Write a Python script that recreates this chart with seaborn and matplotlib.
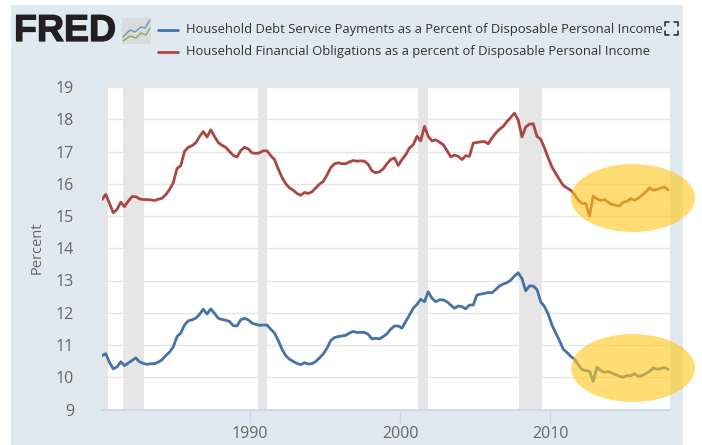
import numpy as np
import pandas as pd
import matplotlib
matplotlib.use('Agg')
import matplotlib.pyplot as plt
import matplotlib.patheffects as pe
import seaborn as sns
from matplotlib.patches import Ellipse, Rectangle
from matplotlib.lines import Line2D
from matplotlib.transforms import IdentityTransform

# values, quarterly from 1980
debt_service = [
    10.67, 10.73, 10.46, 10.26, 10.32, 10.48, 10.36, 10.44, 10.52, 10.60, 10.48, 10.43, 10.40, 10.42, 10.42, 10.47,
    10.54, 10.67, 10.78, 10.94, 11.26, 11.37, 11.62, 11.75, 11.78, 11.83, 11.95, 12.11, 11.96, 12.12, 11.98, 11.83,
    11.79, 11.77, 11.73, 11.60, 11.59, 11.78, 11.83, 11.78, 11.68, 11.64, 11.61, 11.62, 11.62, 11.49, 11.37, 11.14,
    10.87, 10.67, 10.56, 10.49, 10.43, 10.39, 10.45, 10.41, 10.42, 10.49, 10.60, 10.72, 10.90, 11.14, 11.23, 11.26,
    11.28, 11.30, 11.37, 11.42, 11.39, 11.39, 11.39, 11.33, 11.19, 11.21, 11.19, 11.26, 11.35, 11.49,
    11.59, 11.59, 11.52, 11.73, 11.93, 12.14, 12.26, 12.42, 12.34, 12.65, 12.45, 12.34, 12.40, 12.40, 12.34, 12.24,
    12.14, 12.21, 12.19, 12.12, 12.24, 12.24, 12.55, 12.58, 12.60, 12.63, 12.62, 12.72, 12.83, 12.89, 12.93, 13.01,
    13.14, 13.24, 13.06, 12.68, 12.83, 12.83, 12.72, 12.34, 12.19, 11.96, 11.62, 11.37, 11.14, 10.87, 10.77, 10.65,
    10.56, 10.39, 10.24, 10.21, 10.18, 9.87, 10.31, 10.21, 10.15, 10.18, 10.13, 10.08, 10.03, 10.00, 10.05, 10.05,
    10.11, 10.03, 10.05, 10.11, 10.18, 10.29, 10.25, 10.27, 10.30, 10.25,
]
financial_obligations = [
    15.51, 15.67, 15.39, 15.10, 15.20, 15.43, 15.29, 15.46, 15.60, 15.60, 15.53, 15.51, 15.51, 15.50, 15.48, 15.52,
    15.55, 15.66, 15.82, 16.03, 16.47, 16.56, 17.00, 17.13, 17.18, 17.27, 17.46, 17.62, 17.45, 17.67, 17.47, 17.28,
    17.19, 17.13, 17.00, 16.88, 16.83, 17.03, 17.13, 17.08, 16.96, 16.94, 16.96, 17.02, 17.02, 16.87, 16.75, 16.46,
    16.20, 16.00, 15.87, 15.80, 15.70, 15.64, 15.73, 15.70, 15.75, 15.87, 15.99, 16.07, 16.27, 16.50, 16.62, 16.65,
    16.62, 16.62, 16.68, 16.72, 16.70, 16.71, 16.70, 16.60, 16.40, 16.34,
    16.37, 16.46, 16.62, 16.75, 16.80, 16.57, 16.75, 16.90, 17.11, 17.21, 17.47, 17.33, 17.78, 17.47, 17.33, 17.36,
    17.29, 17.21, 17.03, 16.83, 16.89, 16.85, 16.75, 16.87, 16.85, 17.26, 17.28, 17.30, 17.31, 17.24, 17.42, 17.57,
    17.69, 17.78, 17.93, 18.06, 18.19, 17.98, 17.45, 17.76, 17.85, 17.86, 17.47, 17.38, 17.11, 16.80, 16.52, 16.32,
    16.13, 15.95, 15.87, 15.80, 15.67, 15.49, 15.39, 15.39, 15.00, 15.62, 15.53, 15.48, 15.51, 15.43, 15.36, 15.33,
    15.31, 15.43, 15.45, 15.54, 15.49, 15.55, 15.65, 15.74, 15.87, 15.80, 15.82, 15.87, 15.90, 15.81,
]
recessions = [(1980.13, 1980.5), (1981.5, 1982.9), (1990.55, 1991.1), (2001.2, 2001.85), (2007.95, 2009.45)]
y_ticks = [9, 10, 11, 12, 13, 14, 15, 16, 17, 18, 19]
x_ticks = [1990, 2000, 2010]
debt_label = 'Household Debt Service Payments as a Percent of Disposable Personal Income'
fin_label = 'Household Financial Obligations as a percent of Disposable Personal Income'

W, H = 702, 445
BLUE = '#4572a7'
RED = '#aa4643'

sns.set_theme(style='white')
plt.rcParams['font.family'] = ['Open Sans', 'DejaVu Sans']

fig = plt.figure(figsize=(W / 100, H / 100), dpi=100, facecolor='white')
fig.add_artist(Rectangle((11, 0), 672, H - 5, transform=IdentityTransform(),
                         facecolor='#e1e9f0', edgecolor='none', zorder=-5))

# plot area in pixels: x 102-670, y 87-409
ax = fig.add_axes([102 / W, 1 - 409.5 / H, 568 / W, 322.5 / H], facecolor='white')

df = pd.DataFrame({
    'year': 1980.13 + np.arange(len(debt_service)) * 0.25,
    'debt': debt_service,
    'fin': financial_obligations,
})
for a, b in recessions:
    ax.axvspan(a, b, color='#e6e6e6', lw=0, zorder=1)
sns.lineplot(data=df, x='year', y='debt', color=BLUE, lw=2, ax=ax, zorder=3)
sns.lineplot(data=df, x='year', y='fin', color=RED, lw=2, ax=ax, zorder=3)

ax.set_xlim(1980.13, 2018)
ax.set_ylim(9, 19)
ax.set_yticks(y_ticks)
ax.set_xticks(x_ticks)
ax.set_xlabel('')
ax.set_ylabel('Percent', fontsize=10.5, color='#666666', labelpad=8)
ax.grid(axis='y', color='#e6e6e6', lw=1, zorder=0)
ax.set_axisbelow(True)
ax.tick_params(axis='y', length=0, labelsize=11.5, labelcolor='#666666', pad=20)
ax.tick_params(axis='x', length=10, width=1, color='#ccd6eb', labelsize=11.5,
               labelcolor='#666666', pad=2, bottom=True)
for side in ['top', 'left', 'right']:
    ax.spines[side].set_visible(False)
ax.spines['bottom'].set_color('#ccd6eb')

def px_text(x, y, s, **kw):
    return fig.text(x / W, 1 - y / H, s, va='center', **kw)

# header: logo, icon, legend
logo = px_text(14, 31, 'FRED', fontsize=27, fontweight='bold', color='#231f20',
               family=['Liberation Sans', 'DejaVu Sans'])
logo.set_path_effects([pe.withStroke(linewidth=0.9, foreground='#231f20')])
fig.add_artist(Rectangle((122, H - 44), 29, 26, transform=IdentityTransform(),
                         facecolor='#d9dcdd', edgecolor='none', zorder=2))
fig.add_artist(Line2D([123, 130, 135, 141, 145, 150], [H - 37, H - 30, H - 32, H - 27, H - 28, H - 20],
                      transform=IdentityTransform(), color='#6f93b5', lw=1, zorder=3))
fig.add_artist(Line2D([123, 130, 136, 141, 146, 150], [H - 41, H - 36, H - 38, H - 33, H - 35, H - 28],
                      transform=IdentityTransform(), color='#86ad5a', lw=1, zorder=3))
for y, col, lab in [(29.5, BLUE, debt_label), (51.5, RED, fin_label)]:
    fig.add_artist(Line2D([158, 178], [H - y, H - y], transform=IdentityTransform(), color=col, lw=2))
    px_text(186, y, lab, fontsize=9.36, color='#333333')

# fullscreen corners
for cx, cy, dx, dy in [(665, 22, 1, 1), (678, 22, -1, 1), (665, 35, 1, -1), (678, 35, -1, -1)]:
    fig.add_artist(Line2D([cx + 4 * dx, cx, cx], [H - cy, H - cy, H - cy - 4 * dy],
                          transform=IdentityTransform(), color='#222222', lw=1.1, zorder=6))

# highlight ellipses
for cy in [198, 368]:
    fig.add_artist(Ellipse((633, H - cy), 124, 68, transform=IdentityTransform(),
                           facecolor='#ffc91f', edgecolor='none', alpha=0.62, zorder=5))

fig.savefig('out.png', dpi=100)
